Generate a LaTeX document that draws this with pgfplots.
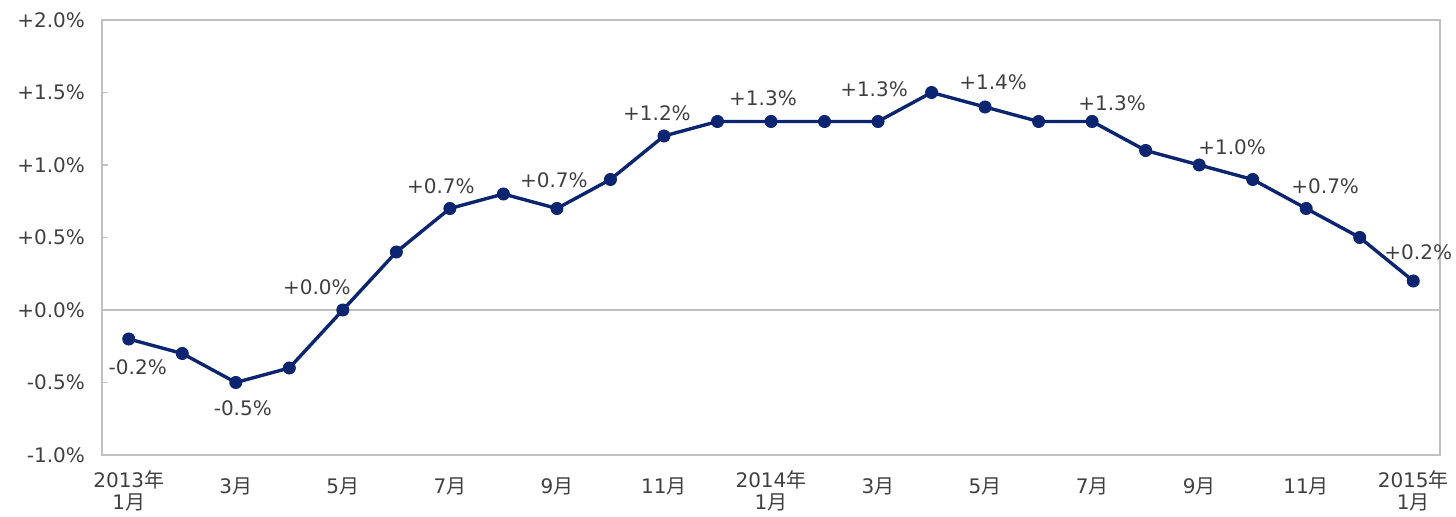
\documentclass[border=0pt]{standalone}
\usepackage{fontspec}
\setmainfont{DejaVu Sans}
\newfontfamily\cjk{Noto Sans CJK JP}
\usepackage{pgfplots}
\usepackage{pgfplotstable}
\pgfplotsset{compat=1.18}
\definecolor{navy}{HTML}{0B2570}
\definecolor{txt}{HTML}{404040}
\definecolor{ax}{HTML}{C0C0C0}

\pgfplotstableread{
x y
0 -0.2
1 -0.3
2 -0.5
3 -0.4
4 0.0
5 0.4
6 0.7
7 0.8
8 0.7
9 0.9
10 1.2
11 1.3
12 1.3
13 1.3
14 1.3
15 1.5
16 1.4
17 1.3
18 1.3
19 1.1
20 1.0
21 0.9
22 0.7
23 0.5
24 0.2
}\data

\pgfplotstableread{
x y lab dx dy
0 -0.2 -0.2 9 -28
2 -0.5 -0.5 7 -26
4 0.0 +0.0 -26 23
6 0.7 +0.7 -9 22
8 0.7 +0.7 -3 28
10 1.2 +1.2 -7 23
12 1.3 +1.3 -8 23
14 1.3 +1.3 -4 32
16 1.4 +1.4 8 25
18 1.3 +1.3 20 18
20 1.0 +1.0 33 18
22 0.7 +0.7 19 22
24 0.2 +0.2 5 29
}\labs

\begin{document}
\begin{tikzpicture}
\begin{axis}[
  at={(0,0)}, anchor=south west,
  scale only axis,
  width=669pt, height=217.5pt,
  xmin=-0.5, xmax=24.5,
  ymin=-1, ymax=2,
  axis line style={ax, line width=1pt},
  xtick={0,2,...,24},
  xticklabels={
    {2013{\cjk 年}\\1{\cjk 月}},
    {\mbox{}\\3{\cjk 月}},
    {\mbox{}\\5{\cjk 月}},
    {\mbox{}\\7{\cjk 月}},
    {\mbox{}\\9{\cjk 月}},
    {\mbox{}\\11{\cjk 月}},
    {2014{\cjk 年}\\1{\cjk 月}},
    {\mbox{}\\3{\cjk 月}},
    {\mbox{}\\5{\cjk 月}},
    {\mbox{}\\7{\cjk 月}},
    {\mbox{}\\9{\cjk 月}},
    {\mbox{}\\11{\cjk 月}},
    {2015{\cjk 年}\\1{\cjk 月}}},
  major x tick style={draw=none},
  ytick={-1,-0.5,0,0.5,1,1.5,2},
  yticklabels={-1.0\%,-0.5\%,+0.0\%,+0.5\%,+1.0\%,+1.5\%,+2.0\%},
  tick pos=left,
  ytick style={ax, line width=0.8pt},
  tick align=inside,
  major tick length=3pt,
  xticklabel style={align=center, text=txt, font=\fontsize{10}{11}\selectfont, yshift=-4.5pt},
  yticklabel style={text=txt, font=\fontsize{10}{12}\selectfont, xshift=-5pt},
  clip=false,
]
\addplot[ax, line width=1pt, forget plot] coordinates {(-0.5,0) (24.5,0)};
\addplot[navy, line width=1.7pt, mark=*, mark size=3pt, mark options={fill=navy, draw=navy, line width=0.5pt}] table[x=x,y=y] {\data};
\addplot[draw=none, mark=none, nodes near coords={\pgfplotspointmeta\%},
  point meta=explicit symbolic,
  visualization depends on={\thisrow{dx} \as \dx},
  visualization depends on={\thisrow{dy} \as \dy},
  every node near coord/.append style={anchor=center, text=txt,
    font=\fontsize{10}{12}\selectfont,
    xshift={0.5*(\dx)*1pt}, yshift={0.5*(\dy)*1pt}}]
  table[x=x, y=y, meta=lab] {\labs};
\end{axis}
\pgfresetboundingbox
\path[use as bounding box] (-51pt,-31pt) rectangle (677pt,227.5pt);
\end{tikzpicture}
\end{document}
